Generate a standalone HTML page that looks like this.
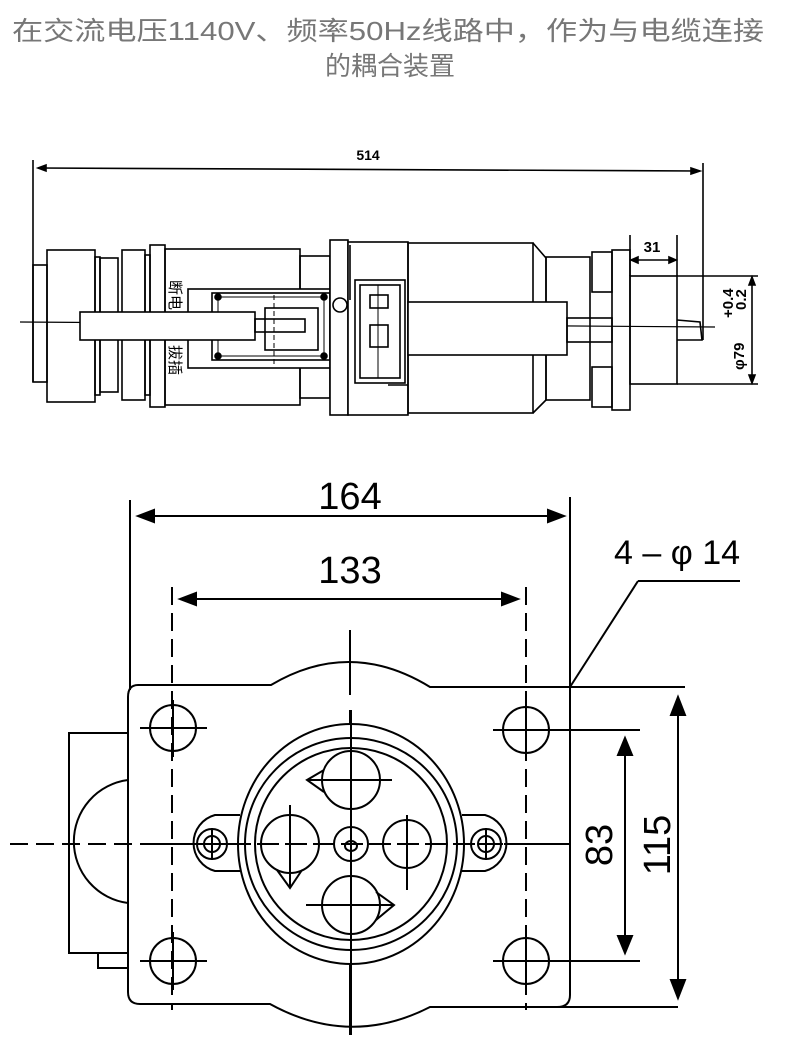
<!DOCTYPE html>
<html><head><meta charset="utf-8"><style>
html,body{margin:0;padding:0;background:#fff}
svg{display:block}
</style></head><body>
<svg width="790" height="1045" viewBox="0 0 790 1045" xmlns="http://www.w3.org/2000/svg">
<text x="388" y="40" text-anchor="middle" font-family="'Liberation Sans','Noto Sans CJK SC',sans-serif" font-size="26" fill="#777" textLength="752" lengthAdjust="spacingAndGlyphs">在交流电压1140V、频率50Hz线路中，作为与电缆连接</text>
<text x="390" y="75" text-anchor="middle" font-family="'Liberation Sans','Noto Sans CJK SC',sans-serif" font-size="26" fill="#777">的耦合装置</text>

<g fill="none" stroke="#000" stroke-width="1.6">
<!-- TOP DRAWING -->
<line x1="33" y1="160" x2="33" y2="382"/>
<line x1="38" y1="168" x2="698" y2="171"/>
<polygon points="38,168 46,165 46,171" fill="#000"/>
<polygon points="700,171 691,168 691,174" fill="#000"/>
<line x1="703" y1="163" x2="703" y2="340"/>
<line x1="20" y1="322" x2="715" y2="327" stroke-width="1.2"/>
<rect x="33" y="265" width="14" height="117"/>
<rect x="47" y="250" width="48" height="152"/>
<rect x="95" y="257" width="5" height="138"/>
<rect x="100" y="258" width="18" height="134"/>
<rect x="122" y="250" width="23" height="150"/>
<rect x="145" y="255" width="5" height="140"/>
<rect x="150" y="245" width="15" height="162"/>
<rect x="165" y="249" width="135" height="156"/>
<rect x="300" y="256" width="30" height="142"/>
<rect x="188" y="289" width="142" height="79" fill="#fff"/>
<rect x="212" y="293" width="118" height="67"/>
<rect x="218" y="297" width="106" height="59" stroke-width="1"/>
<rect x="80" y="312" width="175" height="28" fill="#fff"/>
<rect x="265" y="308" width="53" height="42"/>
<rect x="255" y="319" width="50" height="13"/>
<line x1="274" y1="295" x2="274" y2="365" stroke-dasharray="5,3" stroke-width="1"/>
<circle cx="218" cy="297" r="3" fill="#000"/><circle cx="324" cy="297" r="3" fill="#000"/>
<circle cx="218" cy="356" r="3" fill="#000"/><circle cx="324" cy="356" r="3" fill="#000"/>
<rect x="330" y="240" width="18" height="175" fill="#fff"/>
<rect x="348" y="242" width="60" height="173" fill="#fff"/>
<circle cx="340" cy="305" r="7"/>
<line x1="350" y1="245" x2="350" y2="300"/>
<rect x="355" y="280" width="50" height="103"/>
<rect x="360" y="285" width="40" height="93"/>
<rect x="370" y="295" width="18" height="13"/>
<rect x="370" y="325" width="18" height="22"/>
<line x1="378" y1="285" x2="378" y2="378" stroke-width="1"/>
<line x1="388" y1="385" x2="408" y2="385"/>
<rect x="408" y="243" width="125" height="170"/>
<polyline points="533,243 546,258 546,400 533,413"/>
<rect x="546" y="257" width="44" height="143"/>
<rect x="408" y="302" width="159" height="53" fill="#fff"/>
<rect x="567" y="318" width="45" height="24"/>
<rect x="592" y="252" width="20" height="40"/>
<rect x="592" y="367" width="20" height="40"/>
<rect x="612" y="250" width="18" height="160"/>
<rect x="630" y="276" width="47" height="108"/>
<polyline points="677,320 700,322 702,340 677,340"/>
<line x1="630" y1="235" x2="630" y2="276"/>
<line x1="677" y1="235" x2="677" y2="276"/>
<line x1="632" y1="260" x2="675" y2="260"/>
<polygon points="631,260 638,257 638,263" fill="#000"/>
<polygon points="676,260 669,257 669,263" fill="#000"/>
<line x1="677" y1="276" x2="758" y2="276"/>
<line x1="677" y1="384" x2="758" y2="384"/>
<line x1="752" y1="278" x2="752" y2="382"/>
<polygon points="752,277 749,285 755,285" fill="#000"/>
<polygon points="752,383 749,375 755,375" fill="#000"/>
</g>
<g font-family="'Liberation Sans',sans-serif" font-weight="bold" fill="#000">
<text x="368" y="160" text-anchor="middle" font-size="14">514</text>
<text x="652" y="252" text-anchor="middle" font-size="15">31</text>
<text transform="translate(733,318) rotate(-90)" font-size="15">+0.4</text>
<text transform="translate(746,310) rotate(-90)" font-size="15">0.2</text>
<text transform="translate(744,370) rotate(-90)" font-size="15">φ79</text>
</g>
<g font-family="'Liberation Sans','Noto Sans CJK SC',sans-serif" font-size="15" fill="#000">
<text transform="translate(170,280) rotate(90)">断电</text>
<text transform="translate(170,345) rotate(90)">拔插</text>
</g>

<!-- BOTTOM DRAWING -->
<g fill="none" stroke="#000" stroke-width="2">
<line x1="130" y1="500" x2="130" y2="690"/>
<line x1="570" y1="497" x2="570" y2="690"/>
<line x1="140" y1="516" x2="562" y2="516"/>
<polygon points="138,516 154,510 154,522" fill="#000"/>
<polygon points="564,516 548,510 548,522" fill="#000"/>
<line x1="182" y1="599" x2="515" y2="599"/>
<polygon points="180,599 196,593 196,605" fill="#000"/>
<polygon points="518,599 502,593 502,605" fill="#000"/>
<g stroke-dasharray="18,8">
<line x1="172" y1="587" x2="172" y2="1010"/>
<line x1="526" y1="587" x2="526" y2="1010"/>
<line x1="10" y1="844" x2="570" y2="844"/>
</g>
<line x1="350" y1="630" x2="350" y2="695"/>
<line x1="350" y1="710" x2="350" y2="1035"/>
<path d="M138,685 L271,685 Q350,638 430,687 L685,687 M570,687 L570,995 Q570,1007 557,1007 L678,1007 M557,1007 L430,1007 Q350,1048 270,1004 L140,1004 Q128,1004 128,992 L128,697 Q128,685 138,685"/>
<path d="M128,733 L69,733 L69,953 L128,953"/>
<path d="M128,780 A62,62 0 0 0 128,903"/>
<path d="M128,968 L98,968 L98,953"/>
<circle cx="173" cy="728" r="23"/><circle cx="526" cy="730" r="23"/>
<circle cx="173" cy="961" r="23"/><circle cx="526" cy="961" r="23"/>
<line x1="140" y1="728" x2="207" y2="728"/><line x1="173" y1="700" x2="173" y2="757"/>
<line x1="493" y1="730" x2="640" y2="730"/><line x1="526" y1="702" x2="526" y2="757"/>
<line x1="140" y1="961" x2="207" y2="961"/><line x1="173" y1="932" x2="173" y2="990"/>
<line x1="493" y1="961" x2="640" y2="961"/><line x1="526" y1="932" x2="526" y2="990"/>
<path d="M240,815 L215,815 A29,29 0 0 0 215,871 L240,871"/>
<path d="M462,815 L485,815 A29,29 0 0 1 485,871 L462,871"/>
<ellipse cx="351" cy="844" rx="113" ry="120" fill="#fff"/>
<circle cx="351" cy="844" r="106"/>
<circle cx="351" cy="844" r="96"/>
<circle cx="212" cy="844" r="15"/><circle cx="212" cy="844" r="8"/>
<circle cx="486" cy="844" r="15"/><circle cx="486" cy="844" r="8"/>
<line x1="145" y1="844" x2="560" y2="844" stroke-dasharray="22,6"/>
<line x1="351" y1="710" x2="351" y2="1035"/>
<line x1="212" y1="828" x2="212" y2="860"/><line x1="486" y1="828" x2="486" y2="860"/>
<circle cx="351" cy="780" r="29"/>
<path d="M324,770 L307,780 L324,792"/>
<line x1="307" y1="780" x2="392" y2="780"/>
<circle cx="290" cy="844" r="29"/>
<path d="M277,870 L290,888 L302,870"/>
<line x1="290" y1="805" x2="290" y2="888"/>
<circle cx="407" cy="844" r="24"/>
<line x1="407" y1="815" x2="407" y2="890"/>
<circle cx="351" cy="905" r="29"/>
<path d="M376,892 L394,905 L376,920"/>
<line x1="306" y1="905" x2="394" y2="905"/>
<circle cx="351" cy="844" r="17"/>
<ellipse cx="351" cy="846" rx="6" ry="5"/>
<line x1="570" y1="687" x2="638" y2="581"/>
<line x1="638" y1="581" x2="740" y2="581"/>
<line x1="625" y1="745" x2="625" y2="945"/>
<polygon points="625,738 618,755 632,755" fill="#000"/>
<polygon points="625,953 618,936 632,936" fill="#000"/>
<line x1="678" y1="705" x2="678" y2="990"/>
<polygon points="678,697 671,715 685,715" fill="#000"/>
<polygon points="678,998 671,980 685,980" fill="#000"/>
</g>
<g font-family="'Liberation Sans',sans-serif" font-size="38" fill="#000">
<text x="350" y="509" text-anchor="middle">164</text>
<text x="350" y="583" text-anchor="middle">133</text>
<text x="614" y="564" font-size="34">4 – φ 14</text>
<text transform="translate(612,845) rotate(-90)" text-anchor="middle">83</text>
<text transform="translate(670,845) rotate(-90)" text-anchor="middle">115</text>
</g>
</svg>
</body></html>
